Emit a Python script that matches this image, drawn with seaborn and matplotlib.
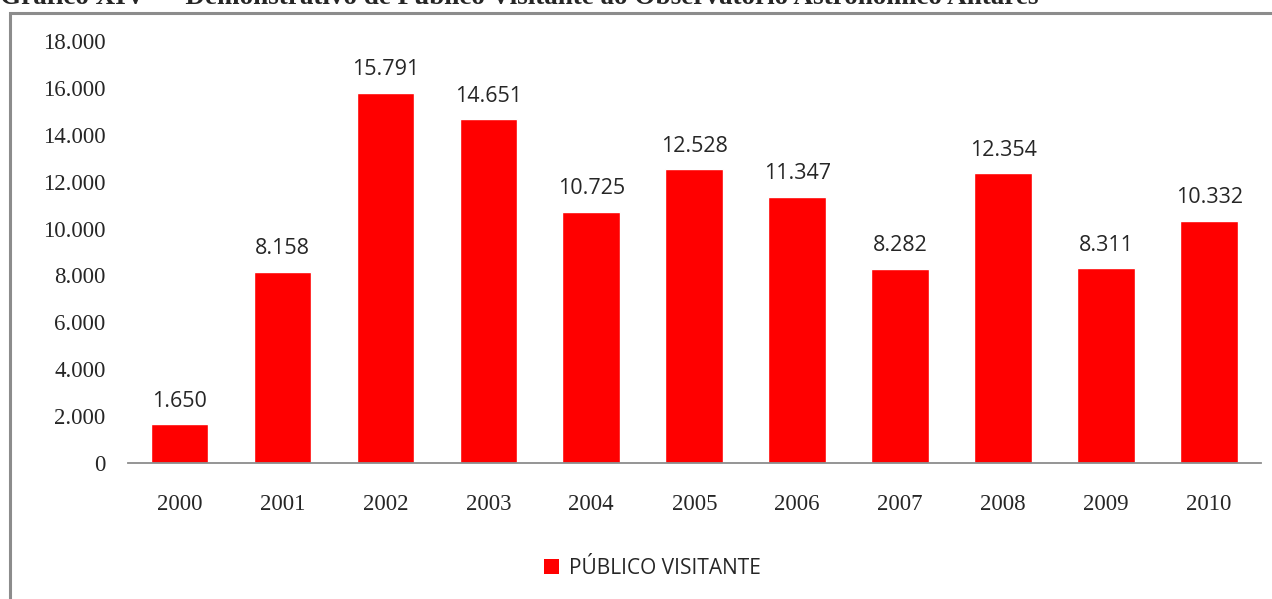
import matplotlib
matplotlib.use("Agg")
import matplotlib.pyplot as plt
import seaborn as sns
import pandas as pd
from matplotlib.patches import Rectangle, Patch

# Data
anos = ["2000", "2001", "2002", "2003", "2004", "2005", "2006", "2007", "2008", "2009", "2010"]
visitantes = [1650, 8158, 15791, 14651, 10725, 12528, 11347, 8282, 12354, 8311, 10332]
rotulos = ["1.650", "8.158", "15.791", "14.651", "10.725", "12.528", "11.347", "8.282", "12.354", "8.311", "10.332"]
y_ticks = [0, 2000, 4000, 6000, 8000, 10000, 12000, 14000, 16000, 18000]
y_tick_labels = ["0", "2.000", "4.000", "6.000", "8.000", "10.000", "12.000", "14.000", "16.000", "18.000"]

df = pd.DataFrame({"Ano": anos, "Visitantes": visitantes})

sns.set_theme(style="white")
plt.rcParams["font.family"] = ["DejaVu Sans"]

fig = plt.figure(figsize=(12.72, 5.99), dpi=100)
ax = fig.add_axes([0.1006, 0.227, 0.8904, 0.7046])

sns.barplot(data=df, x="Ano", y="Visitantes", color="#ff0000", width=0.56,
            saturation=1, ax=ax)

for i, (v, lbl) in enumerate(zip(visitantes, rotulos)):
    ax.annotate(lbl, (i, v), xytext=(0, 9), textcoords="offset points",
                ha="center", va="bottom", fontsize=15.5, family="Open Sans")

ax.set_ylim(0, 18000)
ax.set_xlim(-0.5, len(anos) - 0.5)
ax.set_yticks(y_ticks)
ax.set_yticklabels(y_tick_labels, family="Liberation Serif", fontsize=16.5)
ax.set_xticklabels(anos, family="Liberation Serif", fontsize=16.5)
ax.tick_params(axis="y", length=0, pad=16)
ax.tick_params(axis="x", length=0, pad=22)
ax.set_xlabel("")
ax.set_ylabel("")
for s in ["top", "right", "left"]:
    ax.spines[s].set_visible(False)
ax.spines["bottom"].set_color("#8c8c8c")
ax.spines["bottom"].set_linewidth(1.3)

# Legend
handles = [Patch(facecolor="#ff0000", edgecolor="none", label="PÚBLICO VISITANTE")]
fig.legend(handles=handles, loc="center", bbox_to_anchor=(0.513, 1 - 568 / 599),
           frameon=False, prop={"family": "Open Sans", "size": 15},
           handlelength=0.7, handleheight=0.7, handletextpad=0.5)

# Chart border (extends past the right and bottom of the crop)
fig.patches.append(Rectangle((9.5 / 1272, -0.1), 1.2, 1.1 - 13.5 / 599,
                             transform=fig.transFigure, fill=False,
                             edgecolor="#8c8c8c", linewidth=2.2))

# Cut-off title at the top
fig.text(0.0, 1 - 4 / 599, "Gráfico XIV –   Demonstrativo de Público Visitante ao Observatório Astronômico Antares",
         ha="left", va="baseline", fontsize=19.5, fontweight="bold",
         family="Liberation Serif")

fig.savefig("out.png", dpi=100)
plt.close(fig)
